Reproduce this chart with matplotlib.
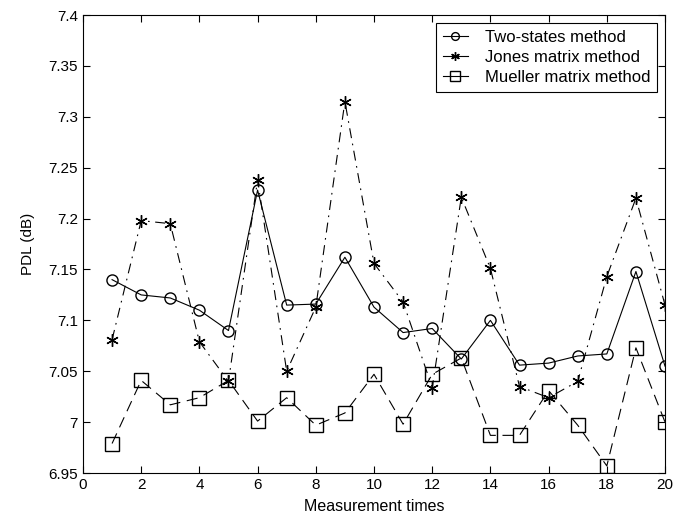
import numpy as np
import matplotlib.pyplot as plt

plt.rcParams['font.family'] = ['Liberation Sans', 'DejaVu Sans']

times = np.arange(1, 21)
two_states = [7.140, 7.125, 7.122, 7.110, 7.090, 7.228, 7.115, 7.116, 7.162, 7.113,
              7.088, 7.092, 7.062, 7.100, 7.056, 7.058, 7.065, 7.067, 7.148, 7.055]
jones = [7.081, 7.198, 7.195, 7.079, 7.040, 7.238, 7.050, 7.113, 7.315, 7.156,
         7.118, 7.034, 7.221, 7.151, 7.035, 7.024, 7.040, 7.143, 7.220, 7.115]
mueller = [6.979, 7.041, 7.017, 7.024, 7.041, 7.001, 7.024, 6.997, 7.009, 7.047,
           6.998, 7.047, 7.063, 6.987, 6.987, 7.031, 6.997, 6.957, 7.073, 7.000]

fig = plt.figure(figsize=(6.88, 5.24), dpi=100)
ax = fig.add_axes([0.1206, 0.0973, 0.846, 0.874])

ax.plot(times, two_states, 'k-', marker='o', mfc='none', ms=8, lw=0.8, label='Two-states method')
ax.plot(times, jones, color='k', dashes=(9, 5, 1.5, 5), marker=(6, 2, 0), ms=9, mew=1.0,
        lw=0.8, label='Jones matrix method')
ax.plot(times, mueller, color='k', dashes=(10, 6), marker='s', mfc='none', ms=10, lw=0.8,
        label='Mueller matrix method')

ax.set_xlim(0, 20)
ax.set_ylim(6.95, 7.4)
ax.set_xticks(range(0, 21, 2))
ax.set_yticks(np.arange(6.95, 7.401, 0.05))
ax.set_yticklabels(['6.95', '7', '7.05', '7.1', '7.15', '7.2', '7.25', '7.3', '7.35', '7.4'])
ax.tick_params(direction='in', top=True, right=True, labelsize=11, length=5)
ax.set_xlabel('Measurement times', fontsize=11.5, labelpad=5)
ax.set_ylabel('PDL (dB)', fontsize=11, labelpad=10)

leg = ax.legend(loc='upper right', fontsize=12, fancybox=False, framealpha=1,
                edgecolor='k', borderaxespad=0.5, handlelength=1.5, handletextpad=1.0,
                labelspacing=0.3, borderpad=0.4, markerscale=0.7)
leg.get_frame().set_linewidth(0.8)
for h in leg.get_lines():
    h.set_linestyle('-')

fig.savefig('out.png', dpi=100)
